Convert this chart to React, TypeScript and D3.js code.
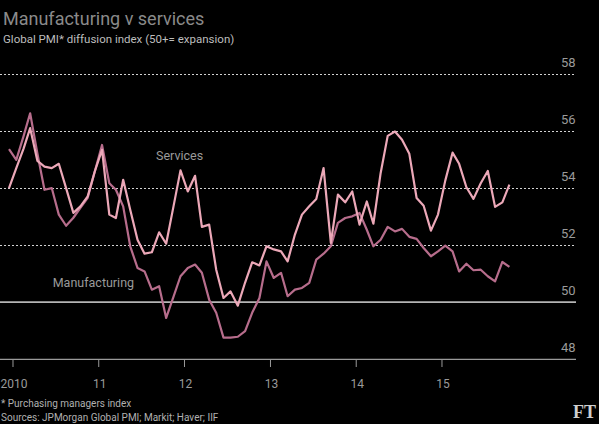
import React, { useEffect } from "react";
import * as d3 from "d3";

// monthly readings, Dec 2009 - Oct 2015
const months = d3
  .timeMonth.range(new Date(2009, 11, 1), new Date(2015, 10, 1))
  .map(d => d3.timeDay.offset(d, 14));

const services = [
  54.0, 54.7, 55.38, 56.1, 54.95, 54.75, 54.7, 54.85, 54.0, 53.13, 53.36, 53.71,
  54.58, 55.34, 53.07, 52.95, 54.29, 53.24, 52.19, 51.7, 51.75, 52.45, 52.05, 53.35,
  54.62, 53.88, 54.43, 52.64, 52.72, 51.14, 50.15, 50.38, 49.88, 50.69, 51.4, 51.29,
  51.96, 51.85, 51.78, 51.43, 52.37, 53.07, 53.36, 53.62, 54.7, 52.08, 53.77, 53.5,
  53.88, 52.72, 53.53, 52.75, 54.53, 55.83, 55.98, 55.69, 55.2, 53.65, 53.38, 52.51,
  53.07, 54.26, 55.24, 54.85, 54.03, 53.62, 54.17, 54.6, 53.34, 53.5, 54.12
];

const manufacturing = [
  55.36, 54.99, 55.82, 56.62, 55.2, 53.94, 54.0, 53.07, 52.68, 52.96, 53.31, 53.66,
  54.57, 55.51, 54.17, 53.94, 53.36, 51.96, 51.2, 51.08, 50.44, 50.56, 49.45, 50.19,
  50.91, 51.2, 51.32, 51.03, 50.09, 49.63, 48.76, 48.76, 48.79, 48.99, 49.63, 50.15,
  51.43, 50.85, 51.03, 50.21, 50.44, 50.5, 50.68, 51.49, 51.7, 51.96, 52.78, 52.95,
  53.01, 53.13, 52.54, 51.96, 52.19, 52.64, 52.48, 52.57, 52.29, 52.22, 51.9, 51.61,
  51.78, 51.98, 51.78, 51.08, 51.35, 51.12, 51.14, 50.91, 50.73, 51.41, 51.24
];

const yTicks = [48, 50, 52, 54, 56, 58];

const font = "Roboto, 'Liberation Sans', sans-serif";

export default function App() {
  const width = 599,
    height = 424;

  useEffect(() => {
    document.body.style.margin = "0";
    document.body.style.background = "#000";
  }, []);

  const x = d3
    .scaleTime()
    .domain([months[0], months[months.length - 1]])
    .range([9, 509.4]);

  const y = d3.scaleLinear().domain([48, 58]).range([359.3, 73.9]);

  const line = d3
    .line<number>()
    .x((d, i) => x(months[i]))
    .y(d => y(d));

  const years = x.ticks(d3.timeYear.every(1));
  const yearLabel = (d: Date) =>
    d.getFullYear() === 2010 ? "2010" : d3.timeFormat("%y")(d);

  return (
    <svg
      width={width}
      height={height}
      style={{ display: "block", background: "#000", fontFamily: font }}
    >
      <rect width={width} height={height} fill="#000" />

      <text x={3} y={25} fontSize={18} fill="#8a8a8a">
        Manufacturing v services
      </text>
      <text x={3} y={42.5} fontSize={11.5} fill="#bdbdbd">
        Global PMI* diffusion index (50+= expansion)
      </text>

      {yTicks.map(t => (
        <g key={t}>
          {t === 48 ? (
            <line x1={0} x2={576} y1={y(t)} y2={y(t)} stroke="#9a9a9a" strokeWidth={1.3} />
          ) : t === 50 ? (
            <line x1={0} x2={576} y1={y(t)} y2={y(t)} stroke="#b5b5b5" strokeWidth={1.8} />
          ) : (
            <line
              x1={0}
              x2={576}
              y1={Math.round(y(t)) + 0.5}
              y2={Math.round(y(t)) + 0.5}
              stroke="#d2d2d2"
              strokeWidth={1.2}
              strokeDasharray="2 2"
            />
          )}
          <text x={575.5} y={y(t) - 7} textAnchor="end" fontSize={13} fill="#9a9a9a">
            {t}
          </text>
        </g>
      ))}

      {years.map(d => (
        <g key={d.getFullYear()}>
          <line x1={x(d)} x2={x(d)} y1={360} y2={367} stroke="#9a9a9a" strokeWidth={1} />
          <text x={x(d) + 1} y={388} textAnchor="middle" fontSize={12} fill="#9a9a9a">
            {yearLabel(d)}
          </text>
        </g>
      ))}

      <path d={line(manufacturing) || ""} fill="none" stroke="#b76d8c" strokeWidth={2.2} strokeLinejoin="round" />
      <path d={line(services) || ""} fill="none" stroke="#eca8b8" strokeWidth={2.2} strokeLinejoin="round" />

      <text x={156} y={160} fontSize={12.5} fill="#9a9a9a">
        Services
      </text>
      <text x={52.7} y={286.5} fontSize={12.5} fill="#9a9a9a">
        Manufacturing
      </text>

      <text x={1} y={407} fontSize={10} fill="#b0b0b0">
        * Purchasing managers index
      </text>
      <text x={1} y={421} fontSize={10} fill="#b0b0b0">
        Sources: JPMorgan Global PMI; Markit; Haver; IIF
      </text>
      <text
        x={596}
        y={418}
        textAnchor="end"
        fontSize={18}
        fontWeight="bold"
        fill="#cfcfcf"
        style={{ fontFamily: "'Liberation Serif', serif" }}
      >
        FT
      </text>
    </svg>
  );
}
